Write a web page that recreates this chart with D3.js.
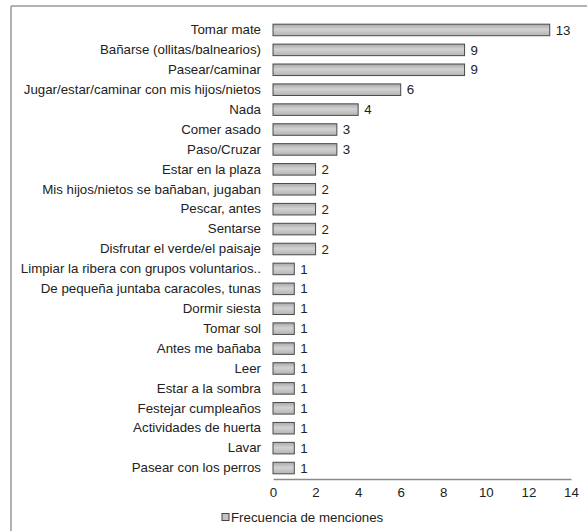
<!DOCTYPE html>
<html>
<head>
<meta charset="utf-8">
<script src="https://cdn.jsdelivr.net/npm/d3@7"></script>
<style>
  body { margin: 0; background: #fff; }
  text { font-family: "Liberation Sans", Arial, sans-serif; fill: #222; }
</style>
</head>
<body>
<svg id="chart" width="587" height="531"></svg>
<script>
const categories = [
  "Tomar mate",
  "Bañarse (ollitas/balnearios)",
  "Pasear/caminar",
  "Jugar/estar/caminar con mis hijos/nietos",
  "Nada",
  "Comer asado",
  "Paso/Cruzar",
  "Estar en la plaza",
  "Mis hijos/nietos se bañaban, jugaban",
  "Pescar, antes",
  "Sentarse",
  "Disfrutar el verde/el paisaje",
  "Limpiar la ribera con grupos voluntarios..",
  "De pequeña juntaba caracoles, tunas",
  "Dormir siesta",
  "Tomar sol",
  "Antes me bañaba",
  "Leer",
  "Estar a la sombra",
  "Festejar cumpleaños",
  "Actividades de huerta",
  "Lavar",
  "Pasear con los perros"
];
const values = [13, 9, 9, 6, 4, 3, 3, 2, 2, 2, 2, 2, 1, 1, 1, 1, 1, 1, 1, 1, 1, 1, 1];
const xTicks = [0, 2, 4, 6, 8, 10, 12, 14];
const seriesName = "Frecuencia de menciones";

const FS = 13.3;
const svg = d3.select("#chart");
const margin = { left: 273, right: 16, top: 20, bottom: 53 };
const W = 587, H = 531;

// frame
svg.append("line").attr("x1", 11).attr("x2", 11).attr("y1", 6).attr("y2", H)
  .attr("stroke", "#999").attr("stroke-width", 1.5);
svg.append("line").attr("x1", 11).attr("x2", W).attr("y1", 6).attr("y2", 6)
  .attr("stroke", "#999").attr("stroke-width", 1.5);

const x = d3.scaleLinear().domain([0, 14]).range([margin.left, W - margin.right]);
const y = d3.scaleBand().domain(categories).range([margin.top, H - margin.bottom]).paddingInner(0.42).paddingOuter(0.21);

const defs = svg.append("defs");
const grad = defs.append("linearGradient").attr("id", "barGrad")
  .attr("x1", 0).attr("y1", 0).attr("x2", 0).attr("y2", 1);
grad.append("stop").attr("offset", "0%").attr("stop-color", "#a9a9a9");
grad.append("stop").attr("offset", "45%").attr("stop-color", "#d2d2d2");
grad.append("stop").attr("offset", "100%").attr("stop-color", "#b4b4b4");

const data = categories.map((c, i) => ({ c, v: values[i] }));

// bars
svg.append("g").selectAll("rect").data(data).join("rect")
  .attr("x", x(0))
  .attr("y", d => y(d.c))
  .attr("width", d => x(d.v) - x(0))
  .attr("height", y.bandwidth())
  .attr("fill", "url(#barGrad)")
  .attr("stroke", "#4a4a4a")
  .attr("stroke-width", 1);

// value labels
svg.append("g").selectAll("text").data(data).join("text")
  .attr("x", d => x(d.v) + 6)
  .attr("y", d => y(d.c) + y.bandwidth() / 2)
  .attr("dy", "0.35em")
  .attr("font-size", FS)
  .text(d => d.v);

// category labels
const yAxis = svg.append("g").attr("transform", `translate(${x(0)},0)`)
  .call(d3.axisLeft(y).tickSize(0).tickPadding(12));
yAxis.select(".domain").remove();
yAxis.selectAll("text").attr("font-size", FS)
  .style("font-family", "'Liberation Sans', Arial, sans-serif").attr("fill", "#222");

// x axis
const xAxisY = H - margin.bottom + 1;
const xAxis = svg.append("g").attr("transform", `translate(0,${xAxisY})`)
  .call(d3.axisBottom(x).tickValues(xTicks).tickSize(0).tickPadding(9));
xAxis.select(".domain").attr("stroke", "#8a8a8a").attr("stroke-width", 1.5);
xAxis.selectAll("text").attr("font-size", FS)
  .style("font-family", "'Liberation Sans', Arial, sans-serif").attr("fill", "#222");

// legend
const lg = svg.append("g").attr("transform", "translate(222,517)");
lg.append("rect").attr("x", 0).attr("y", -3.5).attr("width", 7).attr("height", 7)
  .attr("fill", "#c4c4c4").attr("stroke", "#444").attr("stroke-width", 1);
lg.append("text").attr("x", 9).attr("y", 0).attr("dy", "0.35em")
  .attr("font-size", FS).text(seriesName);
</script>
</body>
</html>
